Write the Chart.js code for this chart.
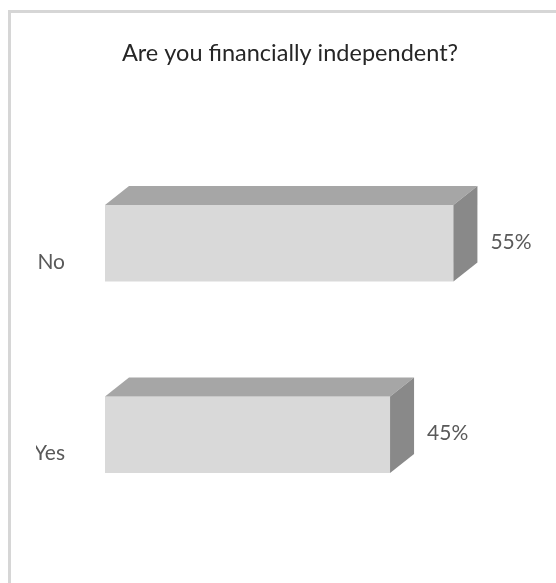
<!DOCTYPE html>
<html>
<head>
<meta charset="utf-8">
<script src="https://cdn.jsdelivr.net/npm/chart.js@4.4.1/dist/chart.umd.min.js"></script>
<style>
  html, body { margin: 0; padding: 0; background: #ffffff; }
  #wrap { position: relative; width: 556px; height: 583px; overflow: hidden; }
  #frame { position: absolute; left: 8px; top: 10px; width: 700px; height: 700px;
           border-left: 3px solid #d6d6d6; border-top: 3px solid #d6d6d6; box-sizing: border-box; }
  #c { position: absolute; left: 0; top: 0; }
</style>
</head>
<body>
<div id="wrap">
  <div id="frame"></div>
  <canvas id="c" width="556" height="583"></canvas>
</div>
<script>
const titleText = "Are you financially independent?";
const categories = ["No", "Yes"];
const percentValues = [55, 45];
const valueLabels = ["55%", "45%"];

const FONT = "Lato, 'Open Sans', sans-serif";
const DEPTH_X = 24, DEPTH_Y = 19;

const bar3d = {
  id: 'bar3d',
  afterDatasetsDraw(chart) {
    const ctx = chart.ctx;
    const meta = chart.getDatasetMeta(0);
    meta.data.forEach((bar, i) => {
      const p = bar.getProps(['x', 'y', 'base', 'height'], true);
      const top = p.y - p.height / 2, bottom = p.y + p.height / 2;
      ctx.save();
      ctx.fillStyle = '#a6a6a6';
      ctx.beginPath();
      ctx.moveTo(p.base, top);
      ctx.lineTo(p.base + DEPTH_X, top - DEPTH_Y);
      ctx.lineTo(p.x + DEPTH_X, top - DEPTH_Y);
      ctx.lineTo(p.x, top);
      ctx.closePath();
      ctx.fill();
      ctx.fillStyle = '#898989';
      ctx.beginPath();
      ctx.moveTo(p.x, top);
      ctx.lineTo(p.x + DEPTH_X, top - DEPTH_Y);
      ctx.lineTo(p.x + DEPTH_X, bottom - DEPTH_Y);
      ctx.lineTo(p.x, bottom);
      ctx.closePath();
      ctx.fill();
      ctx.fillStyle = '#595959';
      ctx.font = '21px ' + FONT;
      ctx.textAlign = 'left';
      ctx.textBaseline = 'middle';
      ctx.fillText(valueLabels[i], p.x + DEPTH_X + 13, p.y - 1);
      ctx.restore();
    });
  }
};

new Chart(document.getElementById('c'), {
  type: 'bar',
  data: {
    labels: categories,
    datasets: [{
      data: percentValues,
      backgroundColor: '#d9d9d9',
      borderWidth: 0,
      categoryPercentage: 1,
      barPercentage: 0.4
    }]
  },
  options: {
    indexAxis: 'y',
    responsive: false,
    animation: false,
    devicePixelRatio: 1,
    layout: { padding: { left: 36, right: 12, top: 0, bottom: 51.5 } },
    plugins: {
      legend: { display: false },
      tooltip: { enabled: false },
      title: {
        display: true,
        text: titleText,
        color: '#262626',
        font: { family: FONT, size: 23.5, weight: 'normal' },
        padding: { top: 39, bottom: 80.3 }
      }
    },
    scales: {
      x: { display: false, min: 0, max: 69.3 },
      y: {
        grid: { display: false, drawTicks: false },
        border: { display: false },
        afterFit(scale) { scale.width = 69; },
        ticks: {
          color: '#595959',
          font: { family: FONT, size: 21 },
          padding: 40,
          crossAlign: 'near',
          labelOffset: 19
        }
      }
    }
  },
  plugins: [bar3d]
});
</script>
</body>
</html>
